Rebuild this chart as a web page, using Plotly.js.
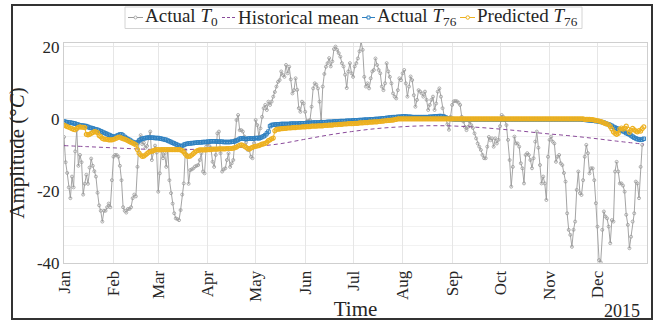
<!DOCTYPE html>
<html>
<head>
<meta charset="utf-8">
<script src="https://cdn.plot.ly/plotly-3.0.1.min.js"></script>
<style>
  html, body { margin: 0; padding: 0; background: #ffffff; }
  #chart { width: 655px; height: 321px; }
</style>
</head>
<body>
<div id="chart"></div>
<script>
// ---------------- DATA ----------------
const startDate = '2015-01-01';
const monthTickDates = ['2015-01-01','2015-02-01','2015-03-01','2015-04-01','2015-05-01','2015-06-01',
  '2015-07-01','2015-08-01','2015-09-01','2015-10-01','2015-11-01','2015-12-01','2016-01-01'];
const monthTickLabels = ['Jan','Feb','Mar','Apr','May','Jun','Jul','Aug','Sep','Oct','Nov','Dec','Jan'];
const yTickValues = [-40, -20, 0, 20];
const yTickLabels = ['-40', '-20', '0', '20'];
const yearLabel = '2015';

// Actual T0 (daily, from Jan 1)
const actualT0 = [
  -5, -12, -15, -19, -22, -16, -19, -9, -3, -13,
  -10, -12, -21, -18, -15.5, -18, -13.5, -11, -13, -14.5,
  -16, -20.5, -24, -25.5, -28.5, -25.5, -25.5, -24.5, -23.5, -24.5,
  -17, -10.5, -10, -10, -10.5, -13, -17, -24.5, -25.5, -26,
  -25, -25, -24.5, -22, -21, -21.5, -13.3, -5.8, -4.5, -7,
  -6.6, -8, -7.5, -5, -3.5, -11.4, -9, -7.4, -9.3, -20.2,
  -15.1, -8.4, -10.9, -9.5, -13.3, -8.4, -17, -20.6, -23.5, -26.2,
  -27.6, -27.8, -28.1, -25.3, -21, -17.9, -8.6, -10, -18, -14.2,
  -14, -13.7, -13.2, -13, -12.8, -11.4, -9.5, -14.6, -15.1, -7.7,
  -6.8, -7.5, -8.1, -11.9, -13.3, -10, -4, -3.5, -9.5, -14.6,
  -14, -13.7, -11.4, -9.5, -13.3, -12.3, -11.4, -5.8, -0.3, 1.1,
  -3.1, -3.1, -3.5, -4.9, -6.5, -8.6, -8.6, -10.5, -10.9, -6.7,
  -0.3, -1.7, -4.9, -2.6, 0.6, 3, 3.9, 2.5, 4.8, 3.9,
  4.8, 6.2, 7.5, 9, 10.3, 10.8, 13.2, 12.2, 11.7, 15,
  12.7, 14.5, 11, 7.1, 8, 11.3, 8.1, 3, 2, 4.8,
  4.3, 2, -0.8, -0.5, -0.3, 3.4, 8.5, 9.9, 9.5, 8.5,
  4.8, -0.7, 9, 12.5, 14.5, 15.5, 16.9, 14.6, 16, 19.4,
  20.1, 19.2, 18.3, 17.3, 15.5, 14.6, 12.3, 8.6, 13.2, 15.5,
  12.7, 11.7, 14.6, 15.5, 16.8, 18.8, 21.5, 19.2, 11.7, 9,
  9.9, 8.5, 11.3, 13.2, 13.6, 16.8, 15, 13.6, 12.7, 9,
  8, 9.9, 15.5, 13.2, 11.7, 9.9, 7.1, 6.2, 5.7, 8,
  11.3, 10.8, 12.7, 13.6, 9.9, 6.2, 9, 11.8, 10.8, 6.6,
  3.4, 5.3, 8, 7.6, 7.1, 6.2, 7.6, 5.3, 2.5, 3.9,
  5.3, 6.2, 2.5, 4.3, 7.6, 8.5, 6.2, 3, 0.8, 0.2,
  -1.5, -3, 0.6, 3.9, 4.9, 5, 4.9, 4.5, 3.9, 0.6,
  -0.7, -2.2, -3.1, -2.2, -0.7, -1.7, -2.5, -4, -5.4, -6.8,
  -7.7, -8.6, -10, -10.9, -10.9, -7.7, -5, -5.9, -5.4, -7.7,
  -5.4, -6.8, -5.8, -2, 1.1, 0.6, -0.3, -1.7, -5.8, -11.4,
  -18.8, -13.3, -4.9, -6.8, -6.8, -7.7, -12.3, -13.7, -17.9, -10,
  -9.5, -10, -11.4, -13.7, -10.9, -6.3, -3.5, -8, -12.8, -17.9,
  -16, -17.9, -22.5, -10.5, -5.8, -4.9, -6.3, -6.8, -11.9, -10.5,
  -10, -12.3, -12.8, -15, -17.4, -26.2, -30.8, -32.2, -35.5, -30.8,
  -28.5, -19.7, -14.6, -20.6, -21.1, -17, -10.5, -7.2, -9.5, -15.1,
  -13.7, -13.7, -17, -23.4, -29.9, -39.2, -39.8, -30.8, -25.7, -27.1,
  -27.6, -29.9, -34.5, -28.1, -28.5, -14.6, -11.9, -14.6, -17.9, -17.9,
  -18.5, -20.2, -26.6, -29.4, -35.9, -32.7, -28.5, -26.2, -17.4, -17.9,
  -22, -13.3, -7.2
];

// Historical mean (sampled days of year and values)
const meanDays = [0, 15, 30, 45, 60, 75, 90, 105, 120, 135, 150, 165, 180, 195, 210, 225, 240, 255, 270, 285, 300, 315, 330, 345, 363];
const meanValues = [-7.4, -7.7, -8.0, -8.3, -8.5, -8.5, -8.3, -8.0, -7.6, -6.9, -5.7, -4.5, -3.5, -2.7, -2.2, -1.9, -1.9, -2.2, -2.7, -3.3, -4.0, -4.6, -5.3, -6.1, -7.0];

// Actual T76 (daily)
const actualT76 = [
  -0.7, -0.8, -0.9, -1.0, -1.0, -1.1, -1.2, -1.3, -1.5, -1.6,
  -1.8, -1.8, -1.9, -1.9, -2.0, -2.2, -2.4, -2.5, -2.6, -2.8,
  -2.9, -3.0, -3.2, -3.4, -3.6, -3.8, -4.0, -4.2, -4.4, -4.6,
  -4.8, -5.0, -4.9, -4.7, -4.5, -4.3, -4.3, -4.6, -5.0, -5.3,
  -5.6, -5.8, -6.1, -6.4, -6.6, -6.7, -6.5, -6.0, -5.7, -5.5,
  -5.4, -5.3, -5.2, -5.2, -5.2, -5.2, -5.2, -5.3, -5.3, -5.3,
  -5.4, -5.5, -5.6, -5.7, -5.8, -6.0, -6.2, -6.4, -6.6, -6.8,
  -7.0, -7.2, -7.4, -7.6, -7.5, -7.2, -7.0, -6.9, -6.8, -6.8,
  -6.7, -6.7, -6.6, -6.6, -6.5, -6.5, -6.5, -6.4, -6.4, -6.4,
  -6.3, -6.3, -6.2, -6.2, -6.2, -6.2, -6.3, -6.3, -6.3, -6.3,
  -6.4, -6.4, -6.4, -6.4, -6.4, -6.3, -6.3, -6.2, -6.0, -5.8,
  -5.5, -5.4, -5.4, -5.5, -5.6, -5.5, -5.4, -5.4, -5.5, -5.4,
  -5.3, -5.3, -5.4, -5.2, -5.0, -4.8, -4.5, -4.0, -3.5, -2.0,
  -1.7, -1.6, -1.6, -1.5, -1.5, -1.5, -1.4, -1.4, -1.4, -1.4,
  -1.4, -1.4, -1.3, -1.3, -1.3, -1.3, -1.3, -1.3, -1.2, -1.2,
  -1.2, -1.2, -1.1, -1.1, -1.1, -1.1, -1.0, -1.0, -1.0, -1.0,
  -1.0, -0.9, -0.9, -0.9, -0.9, -0.8, -0.8, -0.8, -0.8, -0.7,
  -0.7, -0.7, -0.7, -0.6, -0.6, -0.6, -0.6, -0.5, -0.5, -0.5,
  -0.5, -0.4, -0.4, -0.4, -0.4, -0.3, -0.3, -0.3, -0.2, -0.2,
  -0.2, -0.2, -0.1, -0.1, -0.1, 0.0, 0.0, 0.0, 0.1, 0.1,
  0.2, 0.2, 0.3, 0.3, 0.4, 0.4, 0.5, 0.5, 0.5, 0.6,
  0.6, 0.6, 0.7, 0.7, 0.7, 0.6, 0.6, 0.6, 0.5, 0.5,
  0.5, 0.5, 0.5, 0.5, 0.5, 0.5, 0.5, 0.5, 0.5, 0.6,
  0.6, 0.6, 0.7, 0.7, 0.7, 0.8, 0.8, 0.7, 0.6, 0.4,
  0.2, 0.1, 0.0, 0.0, -0.1, -0.1, -0.1, -0.1, -0.1, -0.1,
  -0.1, -0.1, -0.1, -0.1, -0.1, -0.1, -0.1, -0.1, -0.1, -0.1,
  -0.1, -0.1, -0.1, -0.1, -0.1, -0.1, -0.1, -0.1, -0.1, -0.1,
  -0.1, -0.1, -0.1, -0.1, -0.1, -0.1, -0.1, -0.1, -0.1, -0.1,
  -0.1, -0.1, -0.1, -0.1, -0.1, -0.1, -0.1, -0.1, -0.1, -0.1,
  -0.1, -0.1, -0.1, -0.1, -0.1, -0.1, -0.1, -0.1, -0.1, -0.1,
  -0.1, -0.1, -0.1, -0.1, -0.1, -0.1, -0.1, -0.1, -0.1, -0.1,
  -0.1, -0.1, -0.1, -0.1, -0.1, -0.1, -0.1, -0.1, -0.1, -0.1,
  -0.1, -0.1, -0.1, -0.1, -0.1, -0.2, -0.2, -0.3, -0.3, -0.4,
  -0.4, -0.5, -0.5, -0.6, -0.6, -0.7, -0.8, -0.9, -1.0, -1.2,
  -1.4, -1.5, -1.7, -1.9, -2.2, -2.4, -2.6, -2.8, -3.0, -3.2,
  -3.4, -3.6, -3.9, -4.1, -4.3, -4.6, -4.9, -5.2, -5.4, -5.6,
  -5.7, -5.8, -5.7, -5.5
];

// Predicted T76 (daily)
const predictedT76 = [
  -1.7, -1.9, -2.1, -2.3, -2.5, -2.7, -2.9, -3.0, -2.6, -2.3,
  -2.2, -2.3, -2.3, -2.4, -4.3, -4.4, -4.3, -4.0, -3.8, -3.5,
  -3.6, -3.8, -4.6, -4.9, -5.4, -5.6, -5.6, -5.7, -5.8, -5.8,
  -5.8, -5.7, -5.5, -5.3, -5.1, -5.0, -5.3, -5.5, -5.6, -5.8,
  -6.0, -6.3, -6.5, -6.7, -6.9, -7.2, -8.5, -9.5, -10.0, -10.4,
  -10.3, -10.0, -9.6, -9.3, -9.1, -9.0, -8.8, -8.6, -8.5, -8.5,
  -8.6, -8.5, -8.5, -8.5, -8.5, -8.5, -8.5, -8.5, -8.5, -8.5,
  -8.5, -8.5, -8.5, -8.6, -8.8, -9.2, -9.8, -10.3, -10.4, -10.3,
  -10.0, -9.6, -9.2, -8.9, -8.7, -8.6, -8.6, -8.6, -8.6, -8.6,
  -8.5, -8.5, -8.5, -8.4, -8.4, -8.4, -8.4, -8.3, -8.3, -8.3,
  -8.3, -8.3, -8.2, -8.2, -8.2, -8.2, -8.1, -8.0, -7.8, -7.5,
  -7.3, -7.2, -7.3, -7.6, -7.9, -8.2, -8.4, -8.1, -7.9, -7.7,
  -7.6, -7.5, -7.4, -7.2, -7.0, -6.9, -6.8, -6.5, -6.0, -5.8,
  -5.5, -5.3, -3.3, -2.9, -2.8, -2.8, -2.7, -2.7, -2.6, -2.6,
  -2.5, -2.5, -2.5, -2.4, -2.4, -2.4, -2.3, -2.3, -2.3, -2.2,
  -2.2, -2.2, -2.1, -2.1, -2.1, -2.0, -2.0, -2.0, -2.0, -1.9,
  -1.9, -1.9, -1.9, -1.8, -1.8, -1.8, -1.7, -1.7, -1.7, -1.6,
  -1.6, -1.6, -1.5, -1.5, -1.5, -1.4, -1.4, -1.4, -1.3, -1.3,
  -1.3, -1.3, -1.2, -1.2, -1.2, -1.1, -1.1, -1.1, -1.0, -1.0,
  -1.0, -0.9, -0.9, -0.9, -0.8, -0.8, -0.8, -0.7, -0.7, -0.6,
  -0.6, -0.5, -0.5, -0.4, -0.4, -0.3, -0.3, -0.2, -0.1, 0.0,
  0.0, 0.0, 0.0, 0.0, 0.0, 0.0, 0.0, 0.0, 0.0, 0.0,
  0.0, 0.0, 0.0, 0.0, 0.0, 0.0, 0.0, 0.0, 0.0, 0.0,
  0.0, 0.0, 0.0, 0.0, 0.0, 0.0, 0.0, 0.0, 0.0, 0.0,
  0.0, 0.0, 0.0, 0.0, 0.0, 0.0, 0.0, 0.0, 0.0, 0.0,
  0.0, 0.0, 0.0, 0.0, 0.0, 0.0, 0.0, 0.0, 0.0, 0.0,
  0.0, 0.0, 0.0, 0.0, 0.0, 0.0, 0.0, 0.0, 0.0, 0.0,
  0.0, 0.0, 0.0, 0.0, 0.0, 0.0, 0.0, 0.0, 0.0, 0.0,
  0.0, 0.0, 0.0, 0.0, 0.0, 0.0, 0.0, 0.0, 0.0, 0.0,
  0.0, 0.0, 0.0, 0.0, 0.0, 0.0, 0.0, 0.0, 0.0, 0.0,
  0.0, 0.0, 0.0, 0.0, 0.0, 0.0, 0.0, 0.0, 0.0, 0.0,
  0.0, 0.0, 0.0, 0.0, 0.0, 0.0, 0.0, 0.0, 0.0, 0.0,
  0.0, 0.0, 0.0, 0.0, 0.0, 0.0, -0.1, -0.1, -0.1, -0.1,
  -0.2, -0.2, -0.3, -0.4, -0.5, -0.6, -0.7, -0.9, -1.1, -1.3,
  -1.4, -1.6, -2.1, -2.8, -3.6, -4.0, -4.3, -4.0, -2.8, -2.5,
  -2.8, -2.5, -2.0, -2.8, -3.7, -3.2, -2.6, -3.0, -3.4, -3.6,
  -3.2, -3.4, -2.7, -2.2
];

// ---------------- HELPERS ----------------
function dayToDate(i) {
  const d = new Date(startDate + 'T00:00:00Z');
  d.setUTCDate(d.getUTCDate() + i);
  return d.toISOString().slice(0, 10);
}
function datesFor(n) { const out = []; for (let i = 0; i < n; i++) out.push(dayToDate(i)); return out; }

// plot-area geometry in pixels (for paper-coordinate decorations)
const W = 655, H = 321;
const M = { l: 64, r: 8, t: 43, b: 58 };
const PW = W - M.l - M.r, PH = H - M.t - M.b;
const px = x => (x - M.l) / PW;
const py = y => (H - M.b - y) / PH;

const serif = '"Liberation Serif", "Times New Roman", serif';
const txt = '#262626';
const cGrey = '#9a9a9a', cPurple = '#8a4a9a', cBlue = '#2f80c0', cYellow = '#EDB120';

// ---------------- TRACES ----------------
const traces = [
  { type: 'scatter', mode: 'lines+markers', name: 'Actual T0',
    x: datesFor(actualT0.length), y: actualT0,
    line: { color: cGrey, width: 0.9 },
    marker: { symbol: 'circle-open', size: 3, color: cGrey, line: { width: 0.8, color: cGrey } },
    showlegend: false },
  { type: 'scatter', mode: 'lines', name: 'Historical mean',
    x: meanDays.map(dayToDate), y: meanValues,
    line: { color: cPurple, width: 1, dash: '4px,3px', shape: 'spline' },
    showlegend: false },
  { type: 'scatter', mode: 'lines+markers', name: 'Actual T76',
    x: datesFor(actualT76.length), y: actualT76,
    line: { color: cBlue, width: 1 },
    marker: { symbol: 'square-open', size: 3.5, color: cBlue, line: { width: 1, color: cBlue } },
    showlegend: false },
  { type: 'scatter', mode: 'lines+markers', name: 'Predicted T76',
    x: datesFor(predictedT76.length), y: predictedT76,
    line: { color: cYellow, width: 1 },
    marker: { symbol: 'circle-open', size: 4, color: cYellow, line: { width: 1.2, color: cYellow } },
    showlegend: false }
];

// ---------------- CUSTOM LEGEND ----------------
const legY = 17.5;
const shapes = [
  // outer figure frame
  { type: 'rect', xref: 'paper', yref: 'paper', x0: px(12), x1: px(652), y0: py(319), y1: py(5),
    line: { color: '#333333', width: 2 }, fillcolor: 'rgba(0,0,0,0)', layer: 'above' },
  // legend box
  { type: 'rect', xref: 'paper', yref: 'paper', x0: px(125), x1: px(582), y0: py(28.5), y1: py(7),
    line: { color: '#d4d4d4', width: 1 }, fillcolor: '#ffffff', layer: 'above' },
  { type: 'line', xref: 'paper', yref: 'paper', x0: px(128), x1: px(143), y0: py(legY), y1: py(legY),
    line: { color: cGrey, width: 1 }, layer: 'above' },
  { type: 'circle', xref: 'paper', yref: 'paper', x0: px(134), x1: px(137), y0: py(legY + 1.5), y1: py(legY - 1.5),
    line: { color: cGrey, width: 0.8 }, fillcolor: '#ffffff', layer: 'above' },
  { type: 'line', xref: 'paper', yref: 'paper', x0: px(222), x1: px(237), y0: py(legY), y1: py(legY),
    line: { color: cPurple, width: 1, dash: '3px,2px' }, layer: 'above' },
  { type: 'line', xref: 'paper', yref: 'paper', x0: px(362), x1: px(375), y0: py(legY), y1: py(legY),
    line: { color: cBlue, width: 1 }, layer: 'above' },
  { type: 'rect', xref: 'paper', yref: 'paper', x0: px(367), x1: px(370), y0: py(legY + 1.5), y1: py(legY - 1.5),
    line: { color: cBlue, width: 1 }, fillcolor: '#ffffff', layer: 'above' },
  { type: 'line', xref: 'paper', yref: 'paper', x0: px(460), x1: px(475), y0: py(legY), y1: py(legY),
    line: { color: cYellow, width: 1 }, layer: 'above' },
  { type: 'circle', xref: 'paper', yref: 'paper', x0: px(466), x1: px(469.5), y0: py(legY + 1.75), y1: py(legY - 1.75),
    line: { color: cYellow, width: 1 }, fillcolor: '#ffffff', layer: 'above' }
];

const legendItems = [
  { text: 'Actual <i>T</i><sub>0</sub>', x: 144 },
  { text: 'Historical mean', x: 237 },
  { text: 'Actual <i>T</i><sub>76</sub>', x: 376 },
  { text: 'Predicted <i>T</i><sub>76</sub>', x: 476 }
];
const annotations = legendItems.map(it => ({
  xref: 'paper', yref: 'paper', x: px(it.x), y: py(legY), xanchor: 'left', yanchor: 'middle',
  text: it.text, showarrow: false, borderpad: 0, font: { family: serif, size: 19, color: txt }
}));
annotations.push({
  xref: 'paper', yref: 'paper', x: px(641), y: py(311), xanchor: 'right', yanchor: 'middle',
  text: yearLabel, showarrow: false, borderpad: 0, font: { family: serif, size: 18, color: txt }
});

// ---------------- LAYOUT ----------------
const layout = {
  width: W, height: H,
  margin: M,
  paper_bgcolor: '#ffffff', plot_bgcolor: '#ffffff',
  showlegend: false,
  font: { family: serif, color: txt, size: 17 },
  xaxis: {
    type: 'date',
    range: [monthTickDates[0], monthTickDates[monthTickDates.length - 1]],
    tickmode: 'array', tickvals: monthTickDates, ticktext: monthTickLabels,
    tickangle: -90, ticks: '', tickfont: { family: serif, size: 17, color: txt },
    showgrid: true, gridcolor: '#e6e6e6', gridwidth: 1,
    showline: true, mirror: true, linecolor: '#cfcfcf', linewidth: 1,
    zeroline: false, automargin: false,
    title: { text: 'Time', font: { family: serif, size: 21, color: txt }, standoff: 4 }
  },
  yaxis: {
    range: [-40, 21.1],
    tickmode: 'array', tickvals: yTickValues, ticktext: yTickLabels,
    ticks: '', tickfont: { family: serif, size: 17, color: txt },
    showgrid: true, gridcolor: '#e6e6e6', gridwidth: 1,
    minor: { tickmode: 'linear', tick0: 0, dtick: 5, showgrid: true, gridcolor: '#f2f2f2', ticks: '' },
    showline: true, mirror: true, linecolor: '#cfcfcf', linewidth: 1,
    zeroline: false, automargin: false,
    title: { text: 'Amplitude (°<i>C</i>)', font: { family: serif, size: 21, color: txt }, standoff: 6 }
  },
  shapes: shapes,
  annotations: annotations
};

Plotly.newPlot('chart', traces, layout, { displayModeBar: false, staticPlot: true });
</script>
</body>
</html>
